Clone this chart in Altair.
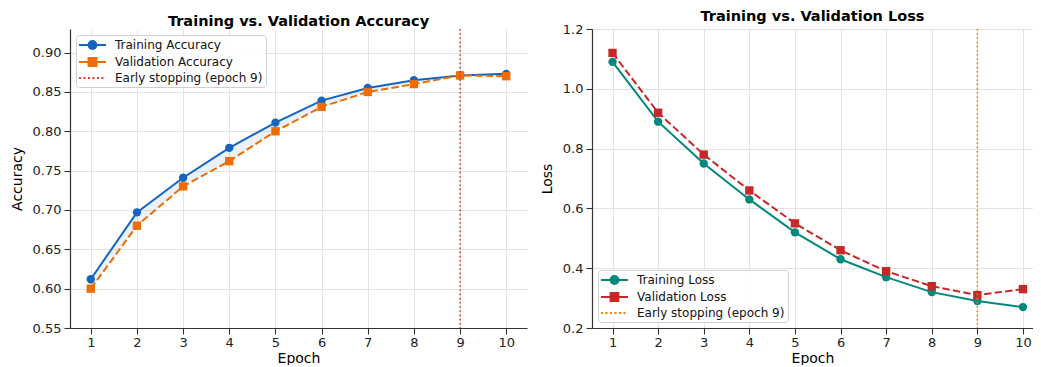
import altair as alt
import pandas as pd

epochs = [1, 2, 3, 4, 5, 6, 7, 8, 9, 10]
train_acc = [0.612, 0.697, 0.741, 0.779, 0.811, 0.839, 0.855, 0.865, 0.871, 0.873]
val_acc = [0.600, 0.680, 0.730, 0.762, 0.800, 0.831, 0.850, 0.860, 0.871, 0.870]
train_loss = [1.09, 0.89, 0.75, 0.63, 0.52, 0.43, 0.37, 0.32, 0.29, 0.27]
val_loss = [1.12, 0.92, 0.78, 0.66, 0.55, 0.46, 0.39, 0.34, 0.31, 0.33]
early_stop_epoch = 9

acc_labels = ["Training Accuracy", "Validation Accuracy", "Early stopping (epoch 9)"]
loss_labels = ["Training Loss", "Validation Loss", "Early stopping (epoch 9)"]
acc_colors = ["#1565C0", "#EF6C00", "#E53935"]
loss_colors = ["#00897B", "#C62828", "#F57C00"]

acc_ticks = [0.55, 0.60, 0.65, 0.70, 0.75, 0.80, 0.85, 0.90]
loss_ticks = [0.2, 0.4, 0.6, 0.8, 1.0, 1.2]

FONT = "DejaVu Sans"
H = 299

# legend symbol paths (line + marker)
LINE = "M-1.17,0L3.33,0"
CIRC = "M0.43,0A0.65,0.65 0 1,0 1.73,0A0.65,0.65 0 1,0 0.43,0Z"
SQR = "M0.43,-0.65L1.73,-0.65L1.73,0.65L0.43,0.65Z"
DOTS = "M-1.17,0L-0.84,0M-0.42,0L-0.09,0M0.33,0L0.66,0M1.08,0L1.41,0M1.83,0L2.16,0M2.58,0L2.91,0"
SYMBOLS = [LINE + CIRC, LINE + SQR, DOTS]


def panel(title, ytitle, train, val, labels, colors, ydomain, yticks, yfmt, legend_orient, fill, width, xmax):
    df = pd.DataFrame({"epoch": epochs, "train": train, "val": val})
    xenc = alt.X("epoch:Q", title="Epoch",
                 scale=alt.Scale(domain=[0.55, xmax], nice=False, zero=False),
                 axis=alt.Axis(values=epochs, format="d"))
    yscale = alt.Scale(domain=ydomain, nice=False, zero=False)
    yaxis = alt.Axis(values=yticks, format=yfmt)

    base = alt.Chart(df)
    layers = []
    if fill:
        layers.append(base.mark_area(color="#1565C0", opacity=0.09).encode(
            x=xenc, y=alt.Y("val:Q", title=ytitle, scale=yscale, axis=yaxis), y2="train:Q"))
    layers.append(base.mark_line(color=colors[0], strokeWidth=2).encode(
        x=xenc, y=alt.Y("train:Q", title=ytitle, scale=yscale, axis=yaxis)))
    layers.append(base.mark_line(color=colors[1], strokeWidth=2, strokeDash=[7.4, 3.2]).encode(
        x=xenc, y=alt.Y("val:Q", title=ytitle, scale=yscale, axis=yaxis)))
    layers.append(base.mark_point(shape="circle", filled=True, opacity=1, size=70, color=colors[0]).encode(
        x=xenc, y=alt.Y("train:Q", title=ytitle, scale=yscale, axis=yaxis)))
    layers.append(base.mark_point(shape="square", filled=True, opacity=1, size=70, color=colors[1]).encode(
        x=xenc, y=alt.Y("val:Q", title=ytitle, scale=yscale, axis=yaxis)))
    rule_df = pd.DataFrame({"epoch": [early_stop_epoch]})
    layers.append(alt.Chart(rule_df).mark_rule(color=colors[2], strokeWidth=1.6, strokeDash=[1.6, 2.6]).encode(
        x=xenc))

    # legend-only layer (points placed outside the x domain and clipped)
    leg_df = pd.DataFrame({"epoch": [0.0] * 3, "v": [ydomain[0] + 0.1] * 3, "series": labels})
    sc = alt.Scale(domain=labels, range=colors)
    leg = alt.Legend(title=None, orient=legend_orient)
    layers.append(alt.Chart(leg_df).mark_point(filled=True, opacity=1, clip=True, strokeWidth=2).encode(
        x=xenc,
        y=alt.Y("v:Q", title=ytitle, scale=yscale, axis=yaxis),
        color=alt.Color("series:N", scale=sc, legend=leg, sort=labels),
        stroke=alt.Stroke("series:N", scale=sc, legend=leg, sort=labels),
        shape=alt.Shape("series:N", scale=alt.Scale(domain=labels, range=SYMBOLS), legend=leg, sort=labels),
    ))
    return alt.layer(*layers).properties(
        width=width, height=H,
        title=alt.TitleParams(title, fontSize=14.5, fontWeight="bold", font=FONT, color="#000",
                              offset=-1, frame="group"),
    )


left = panel("Training vs. Validation Accuracy", "Accuracy", train_acc, val_acc, acc_labels, acc_colors,
             [0.55, 0.93], acc_ticks, ".2f", "top-left", True, 457, 10.45)
right = panel("Training vs. Validation Loss", "Loss", train_loss, val_loss, loss_labels, loss_colors,
              [0.2, 1.2], loss_ticks, ".1f", "bottom-left", False, 441, 10.22)

chart = alt.hconcat(left, right, spacing=13).resolve_scale(
    color="independent", stroke="independent", shape="independent", y="independent", x="independent"
).properties(
    padding={"left": 2, "top": 0, "right": 0, "bottom": 0}
).configure_view(stroke=None).configure_axis(
    labelFont=FONT, titleFont=FONT, labelFontSize=13, titleFontSize=14,
    labelColor="#222", titleColor="#000", titleFontWeight="normal",
    domainColor="#333", domainWidth=1.2, tickColor="#333", tickSize=6, tickWidth=1.1,
    gridColor="#e3e3e3", gridWidth=1, labelPadding=3,
).configure_axisY(titlePadding=8).configure_axisX(titlePadding=2, labelPadding=2).configure_legend(
    labelFont=FONT, labelFontSize=12, labelColor="#111",
    symbolSize=144, symbolStrokeWidth=2, labelOffset=22,
    strokeColor="#d0d0d0", fillColor="rgba(255,255,255,0.85)", cornerRadius=3,
    padding=3, rowPadding=1, offset=6,
)

chart.save("out.html", embed_options={"renderer": "svg", "actions": False})
